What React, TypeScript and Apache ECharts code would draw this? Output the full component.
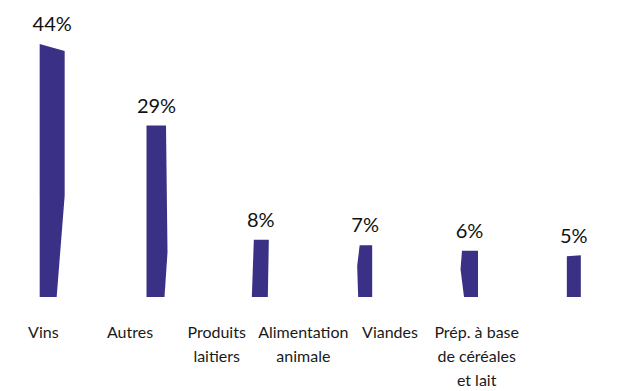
import React, { useEffect, useRef } from "react";
import * as echarts from "echarts";

const categories = ["Vins", "Autres", "Produits\nlaitiers", "Alimentation\nanimale", "Viandes", "Prép. à base\nde céréales\net lait"];
const values = [44, 29, 8, 7, 6, 5];
const valueLabels = ["44%", "29%", "8%", "7%", "6%", "5%"];

// hand-drawn bar outlines: [dx from band centre (px), fraction of bar height from top, extra dy px]
const BAR_OUTLINES: number[][][] = [
  [[-12.5, 0, 0], [12.5, 0, 7], [12.5, 0.6, 0], [4.5, 1, 0], [-12.5, 1, 0]],
  [[-10, 0, 0], [9.5, 0, 0], [11, 0.74, 0], [8, 1, 0], [-10, 1, 0]],
  [[-7, 0, 0], [8, 0, 0], [7, 1, 0], [-9, 1, 0]],
  [[-5.5, 0, 0], [7, 0, 0], [7, 1, 0], [-7, 1, 0], [-8, 0.4, 0]],
  [[-7.5, 0, 0], [8.5, 0, 0], [8.5, 1, 0], [-5.5, 1, 0], [-9, 0.4, 0]],
  [[-7, 0, 0], [7, 0, -1], [7, 1, 0], [-7, 1, 0]],
];

const BAR_COLOR = "#3A3186";
const FONT = "Lato, 'Open Sans', sans-serif";

export default function App() {
  const ref = useRef<HTMLDivElement>(null);
  useEffect(() => {
    if (!ref.current) return;
    const chart = echarts.init(ref.current, null, { renderer: "svg" });
    chart.setOption({
      animation: false,
      backgroundColor: "#ffffff",
      grid: [
        { left: 0, right: 0, top: 44, bottom: 94 },
        { left: 0, width: 520, top: 44, bottom: 94 },
      ],
      xAxis: [
        { type: "category", gridIndex: 0, data: categories, show: false },
        {
          type: "category",
          gridIndex: 1,
          data: categories,
          axisLine: { show: false },
          axisTick: { show: false },
          axisLabel: {
            interval: 0,
            margin: 25,
            fontFamily: FONT,
            fontSize: 16,
            lineHeight: 24,
            color: "#1a1a1a",
          },
        },
      ],
      yAxis: [
        { type: "value", gridIndex: 0, min: -2.5, max: 44, show: false, splitLine: { show: false } },
        { type: "value", gridIndex: 1, min: -2.5, max: 44, show: false, splitLine: { show: false } },
      ],
      series: [
        {
          type: "custom",
          xAxisIndex: 0,
          yAxisIndex: 0,
          data: values.map((v, i) => [i, v]),
          renderItem: (params: any, api: any) => {
            const i = api.value(0);
            const v = api.value(1);
            const top = api.coord([i, v]);
            const cs = params.coordSys;
            const bottomY = cs.y + cs.height;
            const h = bottomY - top[1];
            const outline = BAR_OUTLINES[params.dataIndex];
            const points = outline.map((p) => [top[0] + p[0], top[1] + p[1] * h + p[2]]);
            return {
              type: "group",
              children: [
                { type: "polygon", shape: { points }, style: { fill: BAR_COLOR } },
                {
                  type: "text",
                  x: top[0],
                  y: top[1] - 11,
                  style: {
                    text: valueLabels[params.dataIndex],
                    fill: "#111111",
                    font: `20px ${FONT}`,
                    textAlign: "center",
                    textVerticalAlign: "bottom",
                  },
                },
              ],
            };
          },
        },
      ],
    });
    return () => chart.dispose();
  }, []);
  return <div ref={ref} style={{ width: 626, height: 391, position: "absolute", left: 0, top: 0 }} />;
}
